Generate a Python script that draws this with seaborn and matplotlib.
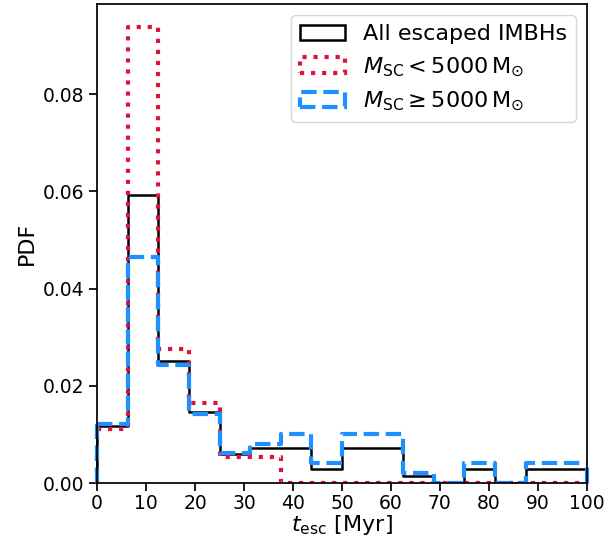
import numpy as np
import pandas as pd
import matplotlib.pyplot as plt
from matplotlib.patches import Patch
import seaborn as sns

sns.set_theme(style="ticks", rc={"axes.edgecolor": "black", "xtick.color": "black",
                                 "ytick.color": "black", "axes.labelcolor": "black",
                                 "text.color": "black"})
plt.rcParams["font.family"] = ["DejaVu Sans"]

# bin edges of the escape time histogram [Myr]
edges = [0, 6.25, 12.5, 18.75, 25, 31.25, 37.5, 43.75, 50,
         56.25, 62.5, 68.75, 75, 81.25, 87.5, 93.75, 100]
centers = [0.5 * (a + b) for a, b in zip(edges[:-1], edges[1:])]

# PDF values, one per bin
pdf_all = [0.0117, 0.0593, 0.0251, 0.0147, 0.0059, 0.0073, 0.0073, 0.0030,
           0.0073, 0.0073, 0.0015, 0.0, 0.0030, 0.0, 0.0030, 0.0030]
pdf_low = [0.0111, 0.0938, 0.0276, 0.0164, 0.0054, 0.0054, 0.0, 0.0,
           0.0, 0.0, 0.0, 0.0, 0.0, 0.0, 0.0, 0.0]
pdf_high = [0.0121, 0.0466, 0.0243, 0.0142, 0.0062, 0.0080, 0.0101, 0.0041,
            0.0101, 0.0101, 0.0020, 0.0, 0.0041, 0.0, 0.0041, 0.0041]

labels = ["All escaped IMBHs",
          r"$M_{\rm SC} < 5000\,\mathrm{M}_{\odot}$",
          r"$M_{\rm SC} \geq 5000\,\mathrm{M}_{\odot}$"]
colors = ["black", "crimson", "dodgerblue"]
styles = ["-", ":", "--"]
widths = [1.8, 3.0, 3.0]

fig = plt.figure(figsize=(6.15, 5.41), dpi=100)
ax = fig.add_axes([0.158, 0.107, 0.796, 0.885])

for vals, c, ls, lw in zip([pdf_all, pdf_low, pdf_high], colors, styles, widths):
    df = pd.DataFrame({"t": centers, "pdf": vals})
    sns.histplot(data=df, x="t", weights="pdf", bins=edges, element="step", fill=False,
                 color=c, linestyle=ls, linewidth=lw, ax=ax)
    # close the outline at both ends, like a step histogram
    ax.vlines([edges[0], edges[-1]], 0, [vals[0], vals[-1]], colors=c,
              linestyles=ls, linewidth=lw, clip_on=False)

ax.set_xlim(0, 100)
ax.set_ylim(0, max(pdf_low) * 1.05)
ax.set_xticks(np.arange(0, 101, 10))
ax.set_yticks([0, 0.02, 0.04, 0.06, 0.08])
ax.set_yticklabels(["0.00", "0.02", "0.04", "0.06", "0.08"])
ax.tick_params(labelsize=13.5)
ax.tick_params(axis="x", pad=2)
ax.set_xlabel(r"$t_{\rm esc}\ [\rm Myr]$", fontsize=16, labelpad=0)
ax.set_ylabel("PDF", fontsize=16)

handles = [Patch(facecolor="none", edgecolor=c, linestyle=ls, linewidth=lw)
           for c, ls, lw in zip(colors, styles, widths)]
ax.legend(handles, labels, loc="upper right", fontsize=16, frameon=True)

fig.savefig("out.png", dpi=100)
